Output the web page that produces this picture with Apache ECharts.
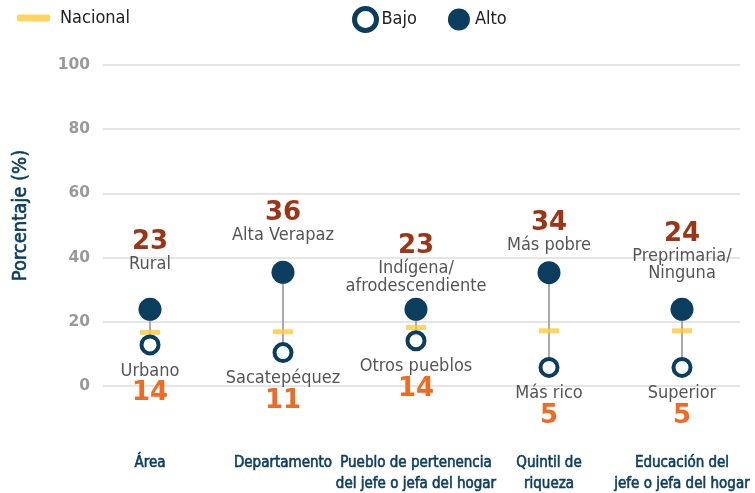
<!DOCTYPE html>
<html>
<head>
<meta charset="utf-8">
<script src="https://cdn.jsdelivr.net/npm/echarts@6/dist/echarts.min.js"></script>
<style>html,body{margin:0;padding:0;background:#fff}#c{width:755px;height:493px}</style>
</head>
<body>
<div id="c"></div>
<script>
const categories = ['Área', 'Departamento', 'Pueblo de pertenencia\ndel jefe o jefa del hogar', 'Quintil de\nriqueza', 'Educación del\njefe o jefa del hogar'];
const altoValues = [23.9, 35.4, 23.9, 35.3, 23.9];
const bajoValues = [12.8, 10.4, 14.1, 5.8, 5.8];
const nacionalValues = [16.7, 16.9, 18.2, 17.2, 17.2];
const altoNames = ['Rural', 'Alta Verapaz', 'Indígena/\nafrodescendiente', 'Más pobre', 'Preprimaria/\nNinguna'];
const bajoNames = ['Urbano', 'Sacatepéquez', 'Otros pueblos', 'Más rico', 'Superior'];
const altoLabels = ['23', '36', '23', '34', '24'];
const bajoLabels = ['14', '11', '14', '5', '5'];

const NARROW = "'Liberation Sans Narrow', 'DejaVu Sans Condensed', 'Roboto Condensed', 'Noto Sans', sans-serif";
const BLOCK = "'DejaVu Sans', 'Liberation Sans', sans-serif";
const DARK = '#0b3d5e';
const altoDist = [25, 16.5, 3, 7.4, 15.3];

function richName(txt) {
  return txt.split('\n').map(t => '{name|' + t + '}').join('\n');
}

const chart = echarts.init(document.getElementById('c'), null, {renderer: 'canvas'});
chart.setOption({
  animation: false,
  backgroundColor: '#fff',
  grid: [
    {left: 103, right: 15, top: 65, bottom: 107, outerBoundsMode: 'none', containLabel: false},
    {left: 83.5, right: 6.5, top: 65, bottom: 107, outerBoundsMode: 'none', containLabel: false}
  ],
  xAxis: [
    {gridIndex: 0, type: 'value', show: false},
    {gridIndex: 1, type: 'category', data: categories,
      axisLine: {show: false}, axisTick: {show: false},
      axisLabel: {interval: 0, margin: 67, color: DARK, fontFamily: NARROW, fontSize: 15, fontWeight: 'normal', lineHeight: 21,
        textBorderColor: DARK, textBorderWidth: 0.6}}
  ],
  yAxis: [
    {gridIndex: 0, type: 'value', min: 0, max: 100, interval: 20,
      name: 'Porcentaje (%)', nameLocation: 'middle', nameGap: 72, nameRotate: 90,
      nameTextStyle: {color: DARK, fontSize: 20, fontFamily: NARROW, padding: [0, 0, 0, 20],
        textBorderColor: DARK, textBorderWidth: 0.6},
      axisLine: {show: false}, axisTick: {show: false},
      axisLabel: {color: '#9a9a9a', fontFamily: BLOCK, fontWeight: 'bold', fontSize: 15.5, margin: 13},
      splitLine: {lineStyle: {color: '#dddddd', width: 1.5}}},
    {gridIndex: 1, type: 'value', min: 0, max: 100, show: false}
  ],
  legend: [
    {data: [{name: 'Nacional', icon: 'roundRect'}], left: 12, top: 4, itemWidth: 33, itemHeight: 7,
      textStyle: {color: '#222', fontSize: 18, fontFamily: NARROW, padding: [0, 0, 0, 5]}},
    {data: [{name: 'Bajo', icon: 'circle', itemStyle: {color: '#fff', borderColor: DARK, borderWidth: 5}},
            {name: 'Alto', icon: 'circle'}],
      left: 347, top: 1, itemWidth: 22, itemHeight: 22, itemGap: 31,
      textStyle: {color: '#222', fontSize: 18, fontFamily: NARROW}}
  ],
  series: [
    {type: 'custom', xAxisIndex: 1, yAxisIndex: 1, z: 1,
      data: categories.map((c, i) => [i, bajoValues[i], altoValues[i]]),
      encode: {x: 0, y: [1, 2]},
      renderItem: function (params, api) {
        const lo = api.coord([api.value(0), api.value(1)]);
        const hi = api.coord([api.value(0), api.value(2)]);
        return {type: 'line', shape: {x1: lo[0], y1: lo[1], x2: hi[0], y2: hi[1]},
          style: {stroke: '#aaaaaa', lineWidth: 2}};
      }},
    {name: 'Nacional', type: 'scatter', xAxisIndex: 1, yAxisIndex: 1, z: 3,
      symbol: 'rect', symbolSize: [20, 5], itemStyle: {color: '#ffc93c'},
      data: nacionalValues},
    {name: 'Bajo', type: 'scatter', xAxisIndex: 1, yAxisIndex: 1, z: 4,
      symbol: 'circle', symbolSize: 17,
      itemStyle: {color: '#fff', borderColor: DARK, borderWidth: 4, opacity: 1},
      data: bajoValues.map((v, i) => ({value: v,
        label: {show: true, position: 'bottom', distance: 7,
          formatter: '{name|' + bajoNames[i] + '}\n{num|' + bajoLabels[i] + '}',
          rich: {
            name: {fontFamily: NARROW, fontSize: 18, color: '#555', lineHeight: 17, align: 'center'},
            num: {fontFamily: BLOCK, fontWeight: 'bold', fontSize: 26, color: '#f26a21', lineHeight: 28, align: 'center'}
          }}}))},
    {name: 'Alto', type: 'scatter', xAxisIndex: 1, yAxisIndex: 1, z: 5,
      symbol: 'circle', symbolSize: 23, itemStyle: {color: DARK, opacity: 1},
      data: altoValues.map((v, i) => ({value: v,
        label: {show: true, position: 'top', distance: altoDist[i],
          formatter: '{num|' + altoLabels[i] + '}\n' + richName(altoNames[i]),
          rich: {
            name: {fontFamily: NARROW, fontSize: 18, color: '#555', lineHeight: 17.5, align: 'center'},
            num: {fontFamily: BLOCK, fontWeight: 'bold', fontSize: 26, color: '#9e3416', lineHeight: 27, align: 'center'}
          }}}))}
  ]
});
</script>
</body>
</html>
